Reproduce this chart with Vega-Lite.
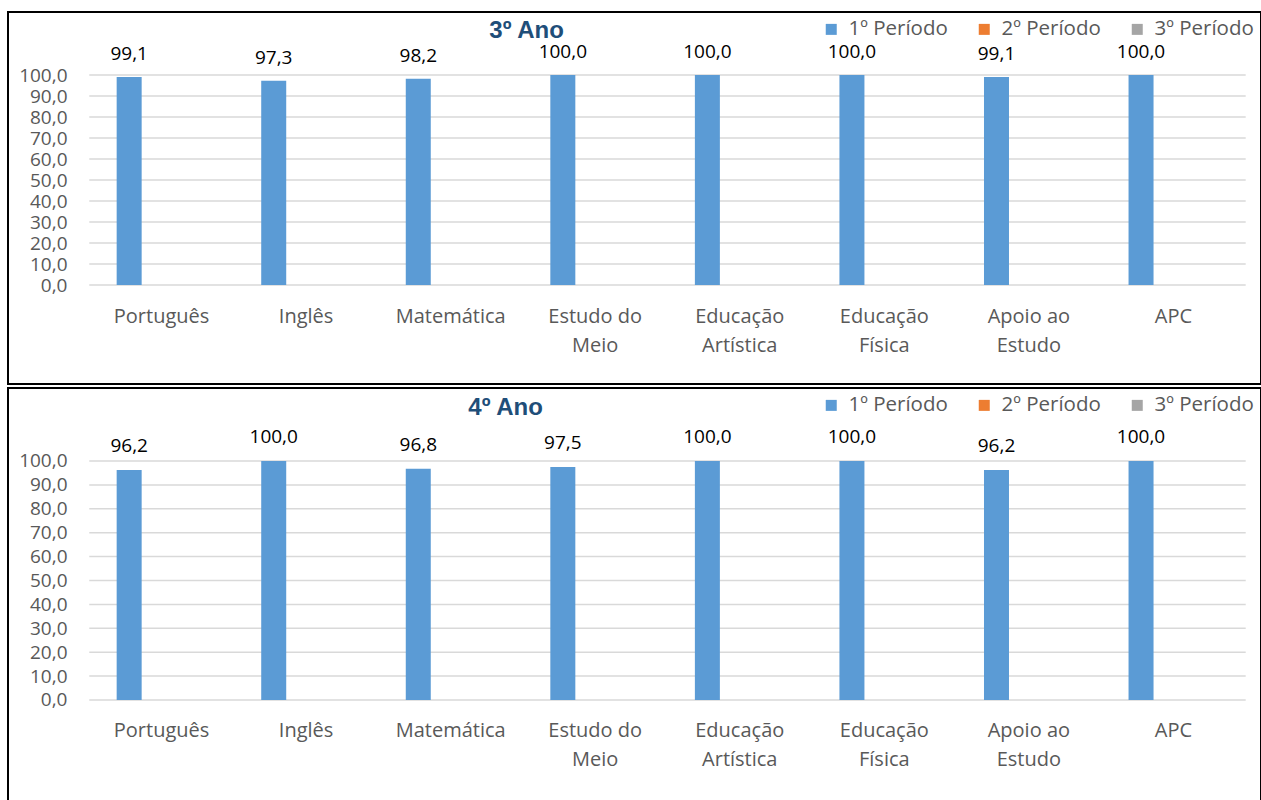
{
  "$schema": "https://vega.github.io/schema/vega-lite/v6.json",
  "padding": {"left": 7, "top": 11, "right": 0, "bottom": 0},
  "autosize": {"type": "pad"},
  "background": "white",
  "config": {
    "locale": {"number": {"decimal": ",", "thousands": ".", "grouping": [3], "currency": ["", " €"]}},
    "view": {"stroke": "black", "strokeWidth": 2},
    "font": "Open Sans",
    "concat": {"spacing": 2},
    "axis": {"labelOverlap": false},
    "axisX": {"labelAlign": "center", "labelOverlap": false},
    "axisY": {"labelOverlap": false},
    "legend": {"orient": "top-right", "direction": "horizontal", "title": null, "symbolType": "square", "symbolSize": 121, "symbolStrokeWidth": 0, "labelFontSize": 20.5, "labelColor": "#595959", "labelFont": "Open Sans", "columnPadding": 26, "labelOffset": 7, "offset": 7}
  },
  "datasets": {
    "notas": [
      {"ano": "3º Ano", "materia": "Português", "periodo": "1º Período", "valor": 99.1},
      {"ano": "3º Ano", "materia": "Inglês", "periodo": "1º Período", "valor": 97.3},
      {"ano": "3º Ano", "materia": "Matemática", "periodo": "1º Período", "valor": 98.2},
      {"ano": "3º Ano", "materia": "Estudo do Meio", "periodo": "1º Período", "valor": 100.0},
      {"ano": "3º Ano", "materia": "Educação Artística", "periodo": "1º Período", "valor": 100.0},
      {"ano": "3º Ano", "materia": "Educação Física", "periodo": "1º Período", "valor": 100.0},
      {"ano": "3º Ano", "materia": "Apoio ao Estudo", "periodo": "1º Período", "valor": 99.1},
      {"ano": "3º Ano", "materia": "APC", "periodo": "1º Período", "valor": 100.0},
      {"ano": "4º Ano", "materia": "Português", "periodo": "1º Período", "valor": 96.2},
      {"ano": "4º Ano", "materia": "Inglês", "periodo": "1º Período", "valor": 100.0},
      {"ano": "4º Ano", "materia": "Matemática", "periodo": "1º Período", "valor": 96.8},
      {"ano": "4º Ano", "materia": "Estudo do Meio", "periodo": "1º Período", "valor": 97.5},
      {"ano": "4º Ano", "materia": "Educação Artística", "periodo": "1º Período", "valor": 100.0},
      {"ano": "4º Ano", "materia": "Educação Física", "periodo": "1º Período", "valor": 100.0},
      {"ano": "4º Ano", "materia": "Apoio ao Estudo", "periodo": "1º Período", "valor": 96.2},
      {"ano": "4º Ano", "materia": "APC", "periodo": "1º Período", "valor": 100.0}
    ],
    "grid": [{"v": 0}, {"v": 10}, {"v": 20}, {"v": 30}, {"v": 40}, {"v": 50}, {"v": 60}, {"v": 70}, {"v": 80}, {"v": 90}, {"v": 100}]
  },
  "resolve": {"scale": {"color": "independent", "xOffset": "independent"}, "legend": {"color": "independent"}},
  "vconcat": [
    {
      "width": 1253,
      "height": 372,
      "layer": [
        {
          "data": {"name": "grid"},
          "mark": {"type": "rule", "color": "#D9D9D9", "strokeWidth": 1.5},
          "encoding": {
            "y": {"field": "v", "type": "quantitative"},
            "x": {"datum": "Português", "type": "nominal", "bandPosition": 0},
            "x2": {"datum": "APC", "bandPosition": 1}
          }
        },
        {
          "data": {"name": "notas"},
          "transform": [{"filter": "datum.ano == '3º Ano'"}],
          "mark": {"type": "bar"},
          "encoding": {
            "x": {"field": "materia", "type": "nominal",
              "scale": {"domain": ["Português", "Inglês", "Matemática", "Estudo do Meio", "Educação Artística", "Educação Física", "Apoio ao Estudo", "APC"], "paddingInner": 0, "paddingOuter": 0.334, "align": 0.8416},
              "axis": {"title": null, "orient": "bottom", "offset": -99, "labelPadding": 31, "labelFontSize": 20, "labelColor": "#595959", "labelFont": "Open Sans", "labelAlign": "center", "ticks": false, "domain": false, "grid": false, "labelAngle": 0, "labelLineHeight": 29, "labelOverlap": false,
                "labelExpr": "length(datum.value) > 10 ? [substring(datum.value, 0, lastindexof(datum.value, ' ')), substring(datum.value, lastindexof(datum.value, ' ') + 1)] : datum.value"}},
            "xOffset": {"field": "periodo", "type": "nominal", "scale": {"domain": ["1º Período", "2º Período", "3º Período"], "paddingInner": 0.228, "paddingOuter": 0.846}},
            "y": {"field": "valor", "type": "quantitative",
              "scale": {"domain": [-47.14, 130], "nice": false, "zero": false},
              "axis": {"title": null, "orient": "left", "offset": -81, "values": [0, 10, 20, 30, 40, 50, 60, 70, 80, 90, 100], "tickCount": 30, "format": ".1f", "labelFontSize": 19, "labelColor": "#595959", "labelFont": "Open Sans", "ticks": false, "domain": false, "grid": false, "labelPadding": 22, "labelOverlap": false}},
            "color": {"field": "periodo", "type": "nominal", "scale": {"domain": ["1º Período", "2º Período", "3º Período"], "range": ["#5B9BD5", "#ED7D31", "#A5A5A5"]}}
          }
        },
        {
          "data": {"name": "notas"},
          "transform": [{"filter": "datum.ano == '3º Ano'"}],
          "mark": {"type": "text", "baseline": "middle", "dy": -23, "fontSize": 19, "color": "black", "font": "Open Sans"},
          "encoding": {
            "x": {"field": "materia", "type": "nominal"},
            "xOffset": {"field": "periodo", "type": "nominal"},
            "y": {"field": "valor", "type": "quantitative"},
            "text": {"field": "valor", "type": "quantitative", "format": ".1f"}
          }
        },
        {
          "data": {"values": [{"titulo": "3º Ano"}]},
          "mark": {"type": "text", "align": "center", "baseline": "middle", "font": "Liberation Sans", "fontSize": 24, "fontWeight": "bold", "color": "#1F4E79"},
          "encoding": {
            "x": {"datum": "Estudo do Meio", "type": "nominal", "bandPosition": 0.025},
            "y": {"datum": 121},
            "text": {"field": "titulo", "type": "nominal"}
          }
        }
      ]
    },
    {
      "width": 1253,
      "height": 413,
      "layer": [
        {
          "data": {"name": "grid"},
          "mark": {"type": "rule", "color": "#D9D9D9", "strokeWidth": 1.5},
          "encoding": {
            "y": {"field": "v", "type": "quantitative"},
            "x": {"datum": "Português", "type": "nominal", "bandPosition": 0},
            "x2": {"datum": "APC", "bandPosition": 1}
          }
        },
        {
          "data": {"name": "notas"},
          "transform": [{"filter": "datum.ano == '4º Ano'"}],
          "mark": {"type": "bar"},
          "encoding": {
            "x": {"field": "materia", "type": "nominal",
              "scale": {"domain": ["Português", "Inglês", "Matemática", "Estudo do Meio", "Educação Artística", "Educação Física", "Apoio ao Estudo", "APC"], "paddingInner": 0, "paddingOuter": 0.334, "align": 0.8416},
              "axis": {"title": null, "orient": "bottom", "offset": -101, "labelPadding": 30, "labelFontSize": 20, "labelColor": "#595959", "labelFont": "Open Sans", "labelAlign": "center", "ticks": false, "domain": false, "grid": false, "labelAngle": 0, "labelLineHeight": 29, "labelOverlap": false,
                "labelExpr": "length(datum.value) > 10 ? [substring(datum.value, 0, lastindexof(datum.value, ' ')), substring(datum.value, lastindexof(datum.value, ' ') + 1)] : datum.value"}},
            "xOffset": {"field": "periodo", "type": "nominal", "scale": {"domain": ["1º Período", "2º Período", "3º Período"], "paddingInner": 0.228, "paddingOuter": 0.846}},
            "y": {"field": "valor", "type": "quantitative",
              "scale": {"domain": [-42.26, 130.54], "nice": false, "zero": false},
              "axis": {"title": null, "orient": "left", "offset": -81, "values": [0, 10, 20, 30, 40, 50, 60, 70, 80, 90, 100], "tickCount": 30, "format": ".1f", "labelFontSize": 19, "labelColor": "#595959", "labelFont": "Open Sans", "ticks": false, "domain": false, "grid": false, "labelPadding": 22, "labelOverlap": false}},
            "color": {"field": "periodo", "type": "nominal", "scale": {"domain": ["1º Período", "2º Período", "3º Período"], "range": ["#5B9BD5", "#ED7D31", "#A5A5A5"]}}
          }
        },
        {
          "data": {"name": "notas"},
          "transform": [{"filter": "datum.ano == '4º Ano'"}],
          "mark": {"type": "text", "baseline": "middle", "dy": -24, "fontSize": 19, "color": "black", "font": "Open Sans"},
          "encoding": {
            "x": {"field": "materia", "type": "nominal"},
            "xOffset": {"field": "periodo", "type": "nominal"},
            "y": {"field": "valor", "type": "quantitative"},
            "text": {"field": "valor", "type": "quantitative", "format": ".1f"}
          }
        },
        {
          "data": {"values": [{"titulo": "4º Ano"}]},
          "mark": {"type": "text", "align": "center", "baseline": "middle", "font": "Liberation Sans", "fontSize": 24, "fontWeight": "bold", "color": "#1F4E79"},
          "encoding": {
            "x": {"datum": "Matemática", "type": "nominal", "bandPosition": 0.88},
            "y": {"datum": 122},
            "text": {"field": "titulo", "type": "nominal"}
          }
        }
      ]
    }
  ]
}
